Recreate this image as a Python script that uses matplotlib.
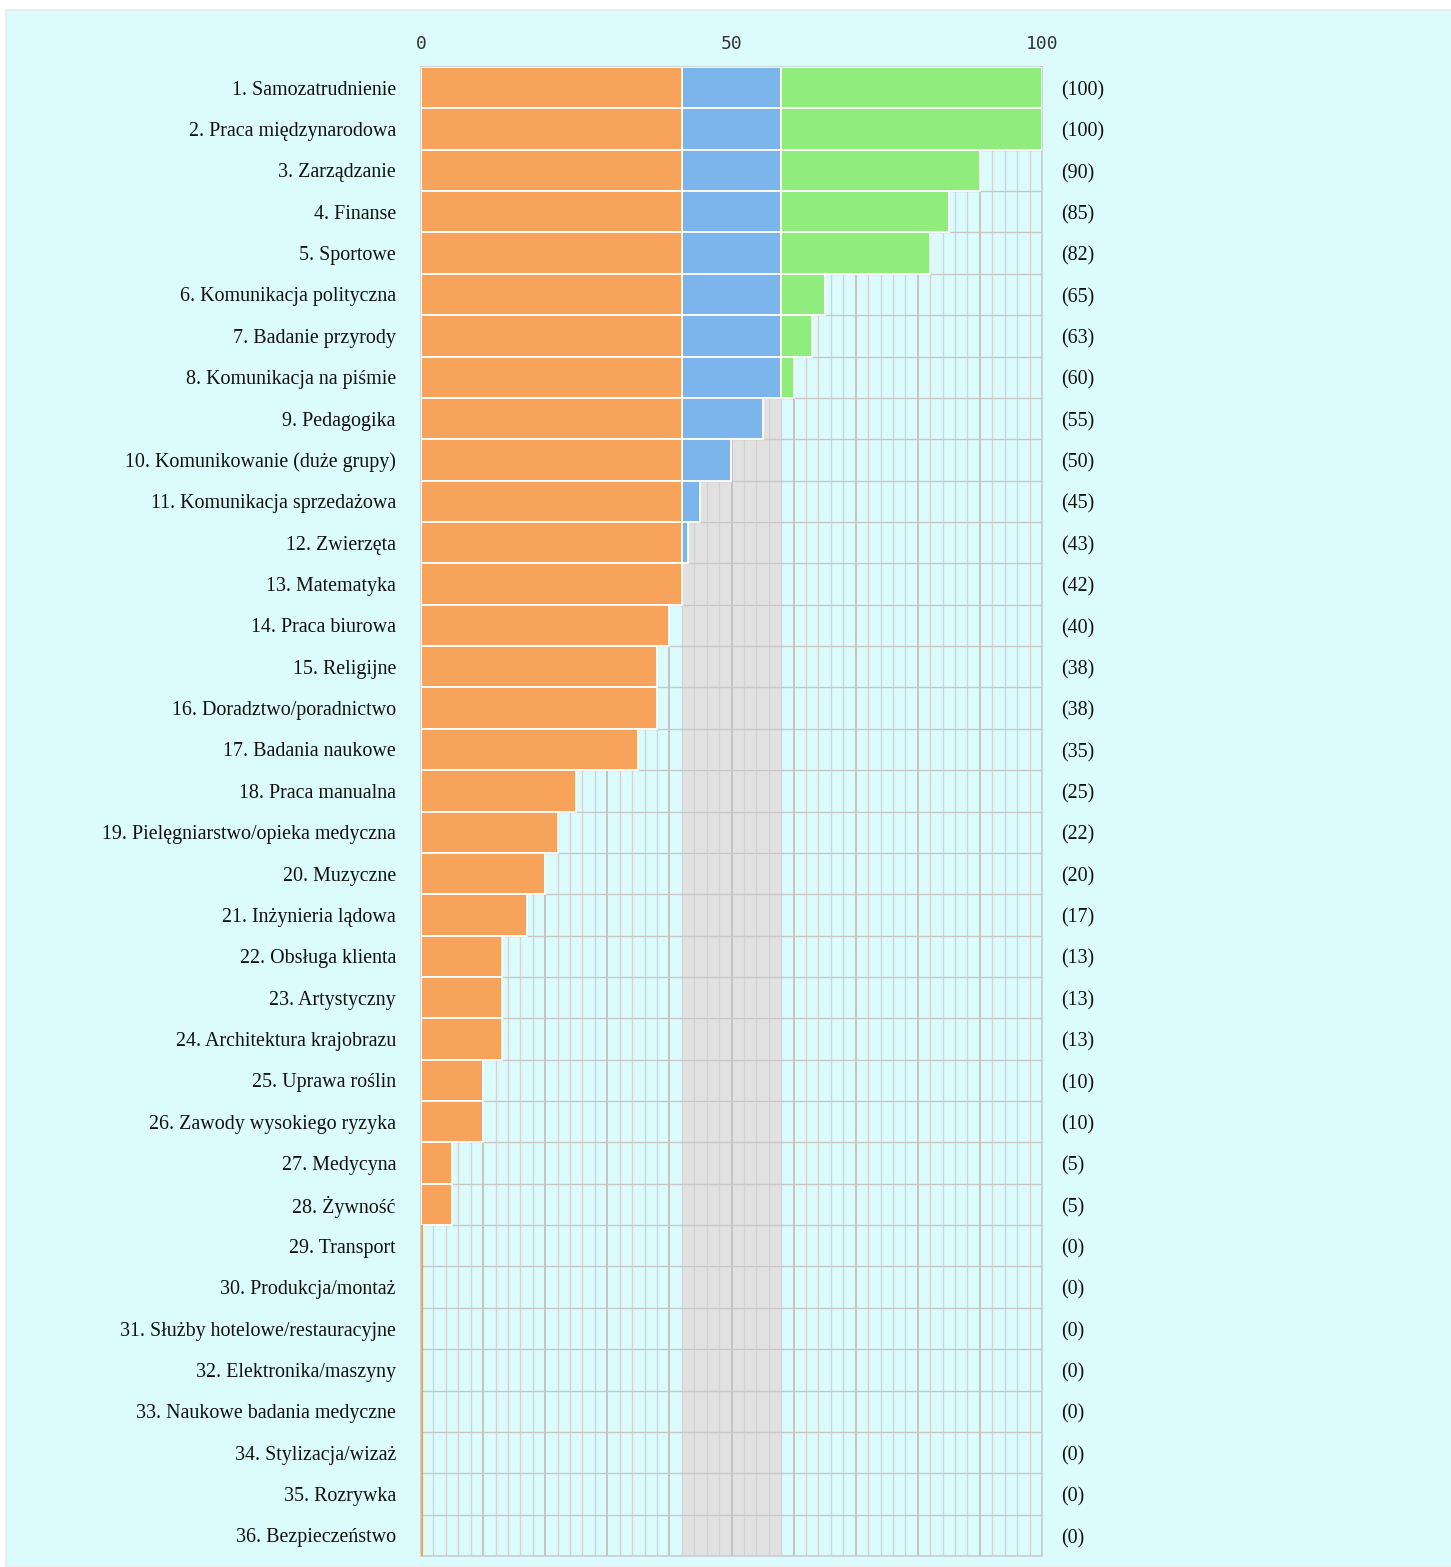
import numpy as np
import matplotlib
matplotlib.use("Agg")
import matplotlib.pyplot as plt
from matplotlib.ticker import MultipleLocator, FuncFormatter
from matplotlib.patches import Rectangle

categories = [
    "1. Samozatrudnienie", "2. Praca międzynarodowa", "3. Zarządzanie", "4. Finanse",
    "5. Sportowe", "6. Komunikacja polityczna", "7. Badanie przyrody",
    "8. Komunikacja na piśmie", "9. Pedagogika", "10. Komunikowanie (duże grupy)",
    "11. Komunikacja sprzedażowa", "12. Zwierzęta", "13. Matematyka",
    "14. Praca biurowa", "15. Religijne", "16. Doradztwo/poradnictwo",
    "17. Badania naukowe", "18. Praca manualna", "19. Pielęgniarstwo/opieka medyczna",
    "20. Muzyczne", "21. Inżynieria lądowa", "22. Obsługa klienta", "23. Artystyczny",
    "24. Architektura krajobrazu", "25. Uprawa roślin", "26. Zawody wysokiego ryzyka",
    "27. Medycyna", "28. Żywność", "29. Transport", "30. Produkcja/montaż",
    "31. Służby hotelowe/restauracyjne", "32. Elektronika/maszyny",
    "33. Naukowe badania medyczne", "34. Stylizacja/wizaż", "35. Rozrywka",
    "36. Bezpieczeństwo",
]
values = [100, 100, 90, 85, 82, 65, 63, 60, 55, 50, 45, 43, 42, 40, 38, 38, 35,
          25, 22, 20, 17, 13, 13, 13, 10, 10, 5, 5, 0, 0, 0, 0, 0, 0, 0, 0]
low_limit = 42
high_limit = 58
tick_labels = [0, 50, 100]

ORANGE = "#F7A35C"
BLUE = "#7CB5EC"
GREEN = "#90ED7D"
BG = "#DCFBFD"
MIN_BAR = 0.3  # minimal visible length for zero-valued bars

plt.rcParams['font.family'] = ['Liberation Serif', 'DejaVu Sans']

fig = plt.figure(figsize=(14.51, 15.67), dpi=100)
fig.patch.set_facecolor("white")
fig.patches.append(Rectangle((6 / 1451, 0), 1.0, 1 - 10 / 1567, transform=fig.transFigure,
                             facecolor=BG, edgecolor="#E6EEF0", linewidth=1.5, zorder=-10))

ax = fig.add_axes([421 / 1451, 1 - 1556 / 1567, (1042 - 421) / 1451, (1556 - 67) / 1567])
ax.set_zorder(5)
ax.set_facecolor(BG)

vals = np.array(values, dtype=float)
y = np.arange(len(categories))
orange = np.minimum(vals, low_limit)
blue = np.clip(vals - low_limit, 0, high_limit - low_limit)
green = np.clip(vals - high_limit, 0, None)

ax.axvspan(low_limit, high_limit, color="#E1E1E1", zorder=0.5, linewidth=0)

nz = vals > 0
ax.barh(y[nz], orange[nz], height=1.0, color=ORANGE, edgecolor="white", linewidth=1.3, zorder=3)
mask_b = blue > 0
ax.barh(y[mask_b], blue[mask_b], left=low_limit, height=1.0, color=BLUE,
        edgecolor="white", linewidth=1.3, zorder=3)
mask_g = green > 0
ax.barh(y[mask_g], green[mask_g], left=high_limit, height=1.0, color=GREEN,
        edgecolor="white", linewidth=1.3, zorder=3)
zero = ~nz
ax.barh(y[zero], np.full(zero.sum(), MIN_BAR), height=1.0, color=ORANGE,
        linewidth=0, zorder=3)

ax.set_xlim(0, 100)
ax.set_ylim(len(categories) - 0.5, -0.5)

ax.xaxis.set_major_locator(MultipleLocator(10))
ax.xaxis.set_minor_locator(MultipleLocator(2))
ax.xaxis.set_major_formatter(FuncFormatter(lambda v, p: f"{int(round(v))}" if int(round(v)) in tick_labels else ""))
ax.xaxis.tick_top()
ax.tick_params(axis="x", which="both", length=0, pad=10, labelsize=13, labelcolor="#333333")
for lab in ax.get_xticklabels():
    lab.set_family("DejaVu Sans Mono")

ax.set_yticks(y)
ax.set_yticklabels(categories)
ax.set_yticks(np.arange(-0.5, len(categories)), minor=True)
ax.tick_params(axis="y", which="both", length=0, pad=18, labelsize=14.4, labelcolor="#111111")
for lab in ax.get_yticklabels():
    lab.set_verticalalignment("center_baseline")

ax.grid(axis="x", which="major", color="#C4C4C4", linewidth=1.4, zorder=1)
ax.grid(axis="x", which="minor", color="#D2D2D2", linewidth=0.9, zorder=1)
ax.grid(axis="y", which="minor", color="#C8C8C8", linewidth=1.0, zorder=1)
ax.grid(axis="y", which="major", visible=False)
ax.set_axisbelow(True)

for s in ax.spines.values():
    s.set_color("#C6D0D6")
    s.set_linewidth(1.2)

for yi, v in zip(y, values):
    ax.annotate(f"({v})", xy=(1.0, yi), xycoords=("axes fraction", "data"),
                xytext=(14, -2.2), textcoords="offset points", ha="left", va="center",
                fontsize=14.4, color="#111111")

fig.savefig("out.png", dpi=100, facecolor=fig.get_facecolor())
